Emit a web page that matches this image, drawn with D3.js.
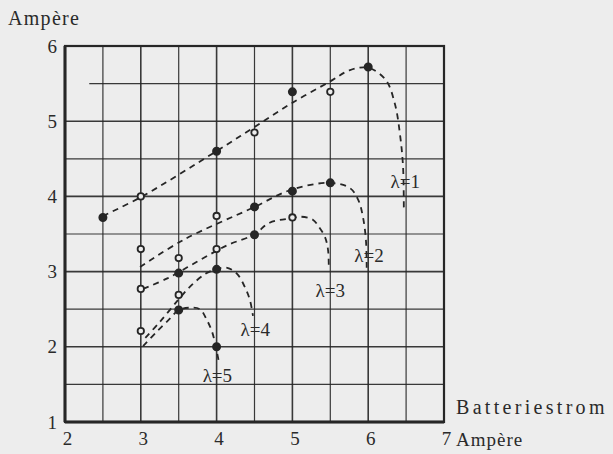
<!DOCTYPE html>
<html>
<head>
<meta charset="utf-8">
<script src="https://cdn.jsdelivr.net/npm/d3@7"></script>
<style>
  html, body { margin: 0; padding: 0; background: #ededed; }
  svg { display: block; }
  text { font-family: "Liberation Serif", "DejaVu Serif", serif; fill: #2a2a2a; }
</style>
</head>
<body>
<svg id="chart" width="613" height="454"></svg>
<script>
// Battery current (A) on the x axis, output current (A) on the y axis,
// one dashed characteristic per ratio λ, with measured points.
const xTicks = [2, 3, 4, 5, 6, 7];
const yTicks = [1, 2, 3, 4, 5, 6];
const xLabel = "Batteriestrom";
const unitLabel = "Ampère";

// measured points: [x, y, filled?]
const points1 = [[2.5, 3.72, 1], [3, 4.0, 0], [4, 4.6, 1], [4.5, 4.85, 0], [5, 5.39, 1], [5.5, 5.39, 0], [6, 5.72, 1]];
const points2 = [[3, 3.30, 0], [3.5, 3.18, 0], [4, 3.74, 0], [4.5, 3.86, 1], [5, 4.07, 1], [5.5, 4.18, 1]];
const points3 = [[3, 2.77, 0], [3.5, 2.98, 1], [4, 3.30, 0], [4.5, 3.49, 1], [5, 3.72, 0]];
const points4 = [[3.5, 2.69, 0], [4, 3.03, 1]];
const points5 = [[3, 2.21, 0], [3.5, 2.49, 1], [4, 2.0, 1]];

// drawn characteristic curves
const curve1 = [[2.5, 3.74], [3.0, 3.99], [3.98, 4.59], [4.48, 4.91], [4.99, 5.24], [5.5, 5.53], [5.76, 5.68], [6.0, 5.71], [6.23, 5.55], [6.35, 5.24], [6.42, 4.82], [6.46, 4.39], [6.47, 3.82]];
const curve2 = [[2.99, 3.06], [3.56, 3.42], [4.48, 3.85], [4.99, 4.09], [5.5, 4.18], [5.76, 4.11], [5.87, 3.95], [5.93, 3.73], [5.97, 3.42], [5.98, 3.05]];
const curve3 = [[3.03, 2.77], [3.35, 2.91], [3.74, 3.13], [4.14, 3.35], [4.49, 3.49], [4.70, 3.65], [4.99, 3.71], [5.10, 3.73], [5.27, 3.69], [5.36, 3.58], [5.43, 3.46], [5.47, 3.29], [5.48, 3.05]];
const curve4 = [[3.06, 2.12], [3.25, 2.33], [3.49, 2.62], [3.65, 2.80], [3.85, 2.97], [3.99, 3.03], [4.14, 3.05], [4.27, 2.97], [4.37, 2.80], [4.44, 2.62], [4.48, 2.41]];
const curve5 = [[3.03, 2.01], [3.21, 2.20], [3.39, 2.38], [3.50, 2.49], [3.65, 2.52], [3.78, 2.50], [3.87, 2.36], [3.94, 2.20], [3.99, 2.00], [4.03, 1.80]];

const lambdas = ["λ=1", "λ=2", "λ=3", "λ=4", "λ=5"];

const series = [
  { name: lambdas[0], pts: points1, curve: curve1 },
  { name: lambdas[1], pts: points2, curve: curve2 },
  { name: lambdas[2], pts: points3, curve: curve3 },
  { name: lambdas[3], pts: points4, curve: curve4 },
  { name: lambdas[4], pts: points5, curve: curve5 }
];

// where each λ label sits (data units: centre x, baseline y)
const labelPos = [[6.49, 4.11], [6.01, 3.13], [5.50, 2.66], [4.51, 2.14], [4.01, 1.53]];

const svg = d3.select("#chart");
const x = d3.scaleLinear().domain([2, 7]).range([65, 444]);
const y = d3.scaleLinear().domain([1, 6]).range([422, 46]);
const ink = "#262626";

// grid every half ampere
const halves = d3.range(2, 7.01, 0.5);
const halvesY = d3.range(1, 6.01, 0.5);
const grid = svg.append("g");
grid.selectAll("line.v").data(halves).join("line")
  .attr("x1", d => x(d)).attr("x2", d => x(d))
  .attr("y1", y(6)).attr("y2", y(1))
  .attr("stroke", ink).attr("stroke-width", d => Number.isInteger(d) ? 1.6 : 1.2)
  .attr("opacity", 0.9);
grid.selectAll("line.h").data(halvesY).join("line")
  .attr("x1", d => d === 5.5 ? x(2.32) : x(2))
  .attr("x2", x(7))
  .attr("y1", d => y(d)).attr("y2", d => y(d))
  .attr("stroke", ink).attr("stroke-width", d => Number.isInteger(d) ? 1.6 : 1.2)
  .attr("opacity", 0.9);

// frame
svg.append("rect")
  .attr("x", x(2)).attr("y", y(6))
  .attr("width", x(7) - x(2)).attr("height", y(1) - y(6))
  .attr("fill", "none").attr("stroke", ink).attr("stroke-width", 2.2);
svg.append("line").attr("x1", x(2)).attr("x2", x(7)).attr("y1", y(1)).attr("y2", y(1))
  .attr("stroke", ink).attr("stroke-width", 3);
svg.append("line").attr("x1", x(2)).attr("x2", x(2)).attr("y1", y(6)).attr("y2", y(1))
  .attr("stroke", ink).attr("stroke-width", 3);

// axes (tick text only)
const fontSize = 19;
const xAxis = svg.append("g").attr("transform", `translate(2,${y(1)})`)
  .call(d3.axisBottom(x).tickValues(xTicks).tickSize(0).tickPadding(10).tickFormat(d3.format("d")));
const yAxis = svg.append("g").attr("transform", `translate(${x(2)},0)`)
  .call(d3.axisLeft(y).tickValues(yTicks).tickSize(0).tickPadding(8).tickFormat(d3.format("d")));
[xAxis, yAxis].forEach(a => {
  a.select(".domain").remove();
  a.selectAll("text").attr("font-size", fontSize)
    .attr("font-family", "Liberation Serif, serif").attr("fill", "#2a2a2a");
});

// axis titles
svg.append("text").attr("x", 8).attr("y", 25).attr("font-size", 20)
  .attr("letter-spacing", 1.3).text(unitLabel);
svg.append("text").attr("x", x(7) + 12).attr("y", y(1) + 24).attr("font-size", 19)
  .attr("letter-spacing", 1).text(unitLabel);
svg.append("text").attr("x", x(7) + 12).attr("y", y(1) - 8).attr("font-size", 20)
  .attr("letter-spacing", 3.3).text(xLabel);

// characteristic curves
const line = d3.line().x(d => x(d[0])).y(d => y(d[1])).curve(d3.curveCatmullRom.alpha(0.5));
svg.append("g").selectAll("path").data(series).join("path")
  .attr("d", d => line(d.curve))
  .attr("fill", "none").attr("stroke", ink).attr("stroke-width", 1.8)
  .attr("stroke-dasharray", "6,5");

// measured points
const pts = svg.append("g");
series.forEach(s => {
  pts.selectAll(null).data(s.pts).join("circle")
    .attr("cx", d => x(d[0])).attr("cy", d => y(d[1]))
    .attr("r", d => d[2] ? 3.6 : 3.2)
    .attr("fill", d => d[2] ? ink : "#ededed")
    .attr("stroke", ink).attr("stroke-width", 1.8);
});

// λ labels
svg.append("g").selectAll("text").data(series).join("text")
  .attr("x", (d, i) => x(labelPos[i][0]))
  .attr("y", (d, i) => y(labelPos[i][1]))
  .attr("text-anchor", "middle").attr("font-size", 19)
  .text(d => d.name);
</script>
</body>
</html>
